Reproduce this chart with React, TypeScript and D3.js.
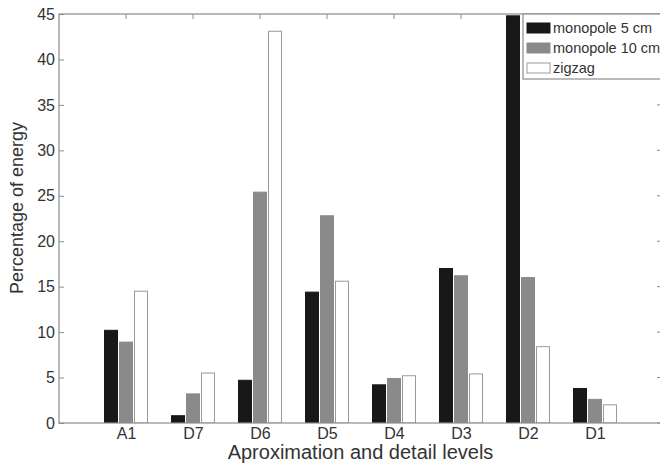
import { useEffect, useRef } from "react";
import * as d3 from "d3";

const categories = ["A1", "D7", "D6", "D5", "D4", "D3", "D2", "D1"];
const seriesNames = ["monopole 5 cm", "monopole 10 cm", "zigzag"];
const monopole5 = [10.2, 0.8, 4.7, 14.4, 4.2, 17.0, 44.8, 3.8];
const monopole10 = [8.9, 3.2, 25.4, 22.8, 4.9, 16.2, 16.0, 2.6];
const zigzag = [14.5, 5.5, 43.1, 15.6, 5.2, 5.4, 8.4, 2.0];
const yTicks = [0, 5, 10, 15, 20, 25, 30, 35, 40, 45];

const fills = ["#181818", "#8a8a8a", "#ffffff"];
const FONT = "'Liberation Sans', Arial, Helvetica, sans-serif";

const App = () => {
  const svgRef = useRef<SVGSVGElement | null>(null);

  useEffect(() => {
    const svg = d3.select(svgRef.current);
    svg.selectAll("*").remove();

    const width = 660;
    const height = 467;
    const margin = { top: 14, right: -2, bottom: 44, left: 59 };
    const values = [monopole5, monopole10, zigzag];

    const x = d3
      .scaleLinear()
      .domain([0, categories.length + 1])
      .range([margin.left, width - margin.right]);

    const y = d3
      .scaleLinear()
      .domain([0, 45])
      .range([height - margin.bottom, margin.top]);

    const sub = d3
      .scaleBand()
      .domain(seriesNames)
      .range([-21.5, 21.5])
      .paddingInner(0.133);

    // clip to axes box
    svg
      .append("clipPath")
      .attr("id", "plotclip")
      .append("rect")
      .attr("x", margin.left)
      .attr("y", margin.top)
      .attr("width", x.range()[1] - margin.left)
      .attr("height", y(0) - margin.top);

    const bars = svg.append("g").attr("clip-path", "url(#plotclip)");
    seriesNames.forEach((name, si) => {
      bars
        .selectAll(`rect.s${si}`)
        .data(values[si])
        .join("rect")
        .attr("class", `s${si}`)
        .attr("x", (_d, i) => x(i + 1) + (sub(name) as number))
        .attr("width", sub.bandwidth())
        .attr("y", (d) => y(d))
        .attr("height", (d) => y(0) - y(d))
        .attr("fill", fills[si])
        .attr("stroke", si === 2 ? "#9a9a9a" : fills[si])
        .attr("stroke-width", 1);
    });

    const axisColor = "#8c8c8c";
    const x0 = x.range()[0];
    const x1 = x.range()[1];
    const yb = y(0);
    const yt = y(45);

    // box
    svg
      .append("rect")
      .attr("x", x0)
      .attr("y", yt)
      .attr("width", x1 - x0)
      .attr("height", yb - yt)
      .attr("fill", "none")
      .attr("stroke", axisColor)
      .attr("stroke-width", 1.2);

    // y axis
    const yAxis = svg
      .append("g")
      .attr("transform", `translate(${x0},0)`)
      .call(d3.axisLeft(y).tickValues(yTicks).tickSize(-5).tickPadding(4));
    yAxis.select(".domain").remove();
    yAxis.selectAll("line").attr("stroke", axisColor);
    yAxis
      .selectAll("text")
      .attr("fill", "#333")
      .style("font-size", "16px")
      .style("font-family", FONT);

    // right ticks
    svg
      .append("g")
      .selectAll("line")
      .data(yTicks)
      .join("line")
      .attr("x1", x1)
      .attr("x2", x1 - 5)
      .attr("y1", (d) => y(d))
      .attr("y2", (d) => y(d))
      .attr("stroke", axisColor);

    // x axis
    const xAxis = svg
      .append("g")
      .attr("transform", `translate(0,${yb})`)
      .call(
        d3
          .axisBottom(x)
          .tickValues(d3.range(1, categories.length + 1))
          .tickFormat((d) => categories[(d as number) - 1])
          .tickSize(-5)
          .tickPadding(5)
      );
    xAxis.select(".domain").remove();
    xAxis.selectAll("line").attr("stroke", axisColor);
    xAxis
      .selectAll("text")
      .attr("fill", "#333")
      .style("font-size", "16px")
      .style("font-family", FONT);

    // top ticks
    svg
      .append("g")
      .selectAll("line")
      .data(d3.range(1, categories.length + 1))
      .join("line")
      .attr("x1", (d) => x(d))
      .attr("x2", (d) => x(d))
      .attr("y1", yt)
      .attr("y2", yt + 5)
      .attr("stroke", axisColor);

    // axis labels
    svg
      .append("text")
      .attr("x", (x0 + x1) / 2)
      .attr("y", 459)
      .attr("text-anchor", "middle")
      .attr("fill", "#333")
      .style("font-size", "20px")
      .style("font-family", FONT)
      .text("Aproximation and detail levels");

    svg
      .append("text")
      .attr("transform", `translate(23,208) rotate(-90)`)
      .attr("text-anchor", "middle")
      .attr("fill", "#333")
      .style("font-size", "18px")
      .style("font-family", FONT)
      .text("Percentage of energy");

    // legend
    const lg = svg.append("g");
    lg.append("rect")
      .attr("x", 523)
      .attr("y", yt)
      .attr("width", 150)
      .attr("height", 65)
      .attr("fill", "#fff")
      .attr("stroke", axisColor)
      .attr("stroke-width", 1.2);
    seriesNames.forEach((name, i) => {
      const ry = 28 + i * 20;
      lg.append("rect")
        .attr("x", 527)
        .attr("y", ry - 5)
        .attr("width", 23)
        .attr("height", 10)
        .attr("fill", fills[i])
        .attr("stroke", i === 2 ? "#9a9a9a" : fills[i]);
      lg.append("text")
        .attr("x", 553)
        .attr("y", ry + 5)
        .attr("fill", "#333")
        .style("font-size", "14.5px")
        .style("font-family", FONT)
        .text(name);
    });
  }, []);

  return (
    <svg
      ref={svgRef}
      width={660}
      height={467}
      style={{ position: "absolute", left: 0, top: 0, background: "#fff" }}
    />
  );
};

export default App;
